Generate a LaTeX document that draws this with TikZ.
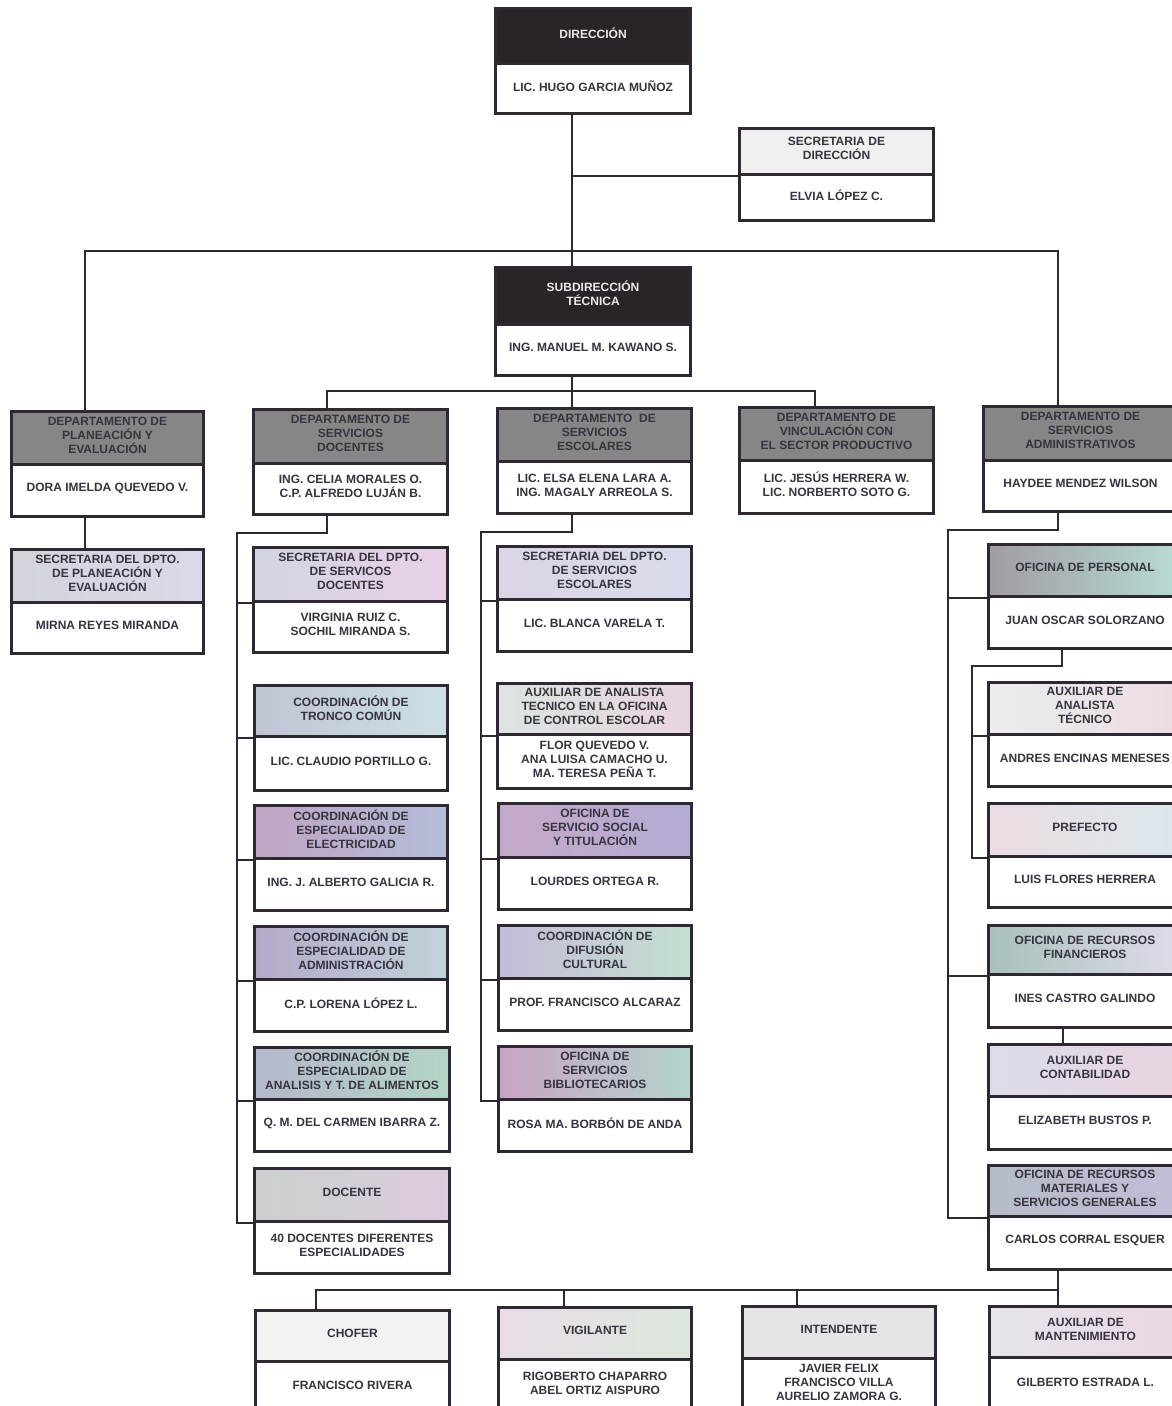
\documentclass[tikz,border=0pt]{standalone}
\usepackage{fontspec}
\newfontfamily\orgfont{Liberation Sans}
\definecolor{lc}{HTML}{2D2832}
\definecolor{tc}{HTML}{36343E}
\definecolor{lighttc}{HTML}{EAEAEA}
\definecolor{darkhd}{HTML}{2A2327}
\definecolor{depthd}{HTML}{868686}
\gdef\obtext{tc}
\tikzset{
  boxf/.style={draw=lc,line width=3pt,inner sep=0pt},
  txt/.style={inner sep=0pt,align=center,
    font={\orgfont\bfseries\fontsize{12}{14}\selectfont}},
  hdark/.style={fill=darkhd,/utils/exec={\gdef\obtext{lighttc}}},
  hdept/.style={fill=depthd},
  hflat/.style={fill=#1},
  hsh/.style args={#1/#2/#3}{/utils/exec={\definecolor{shL}{HTML}{#1}\definecolor{shM}{HTML}{#2}\definecolor{shR}{HTML}{#3}},
     left color=shL,middle color=shM,right color=shR},
  conn/.style={draw=lc,line width=2pt},
}
% name, x1, y1, ymid, x2, y2, header style, header text, body text
\newcommand\orgbox[9]{%
  \gdef\obtext{tc}%
  \pgfmathsetmacro\obW{#5-#2}%
  \pgfmathsetmacro\obH{#4-#3}%
  \pgfmathsetmacro\obB{#6-#4}%
  \node[boxf,#7,anchor=north west,minimum width=\obW pt,minimum height=\obH pt] (#1H) at (#2,#3) {};
  \node[boxf,fill=white,anchor=north west,minimum width=\obW pt,minimum height=\obB pt] (#1B) at (#2,#4) {};
  \node[txt,text=\obtext] (#1Ht) at ([yshift=3pt]#1H.center) {#8};
  \node[txt,text=tc] (#1Bt) at ([yshift=2.5pt]#1B.center) {#9};
}
\begin{document}
\begin{tikzpicture}[x=1pt,y=-1pt]
\useasboundingbox[fill=white] (0,0) rectangle (1172,1406);
\coordinate (tA) at (572,0);
\coordinate (tL) at (85,0);
\coordinate (tR) at (1058,0);
\coordinate (bus1) at (0,251);
\coordinate (bus2) at (0,391);
\coordinate (tD) at (327,0);
\coordinate (tV) at (815,0);
\coordinate (sD) at (237,0);
\coordinate (sE) at (481,0);
\coordinate (sA) at (948,0);
\coordinate (sP) at (972,0);
\coordinate (tP) at (1062,0);
\coordinate (tF) at (1063,0);
\coordinate (bus3) at (0,1290);
\coordinate (tC) at (316,0);
\coordinate (tG) at (564,0);
\coordinate (tI) at (797,0);

\orgbox{dir}{494}{7}{62}{689}{112}{hdark}{DIRECCIÓN}{LIC. HUGO GARCIA MUÑOZ}
\orgbox{sec}{738}{127}{173}{932}{219}{hflat=black!6}{SECRETARIA DE\\DIRECCIÓN}{ELVIA LÓPEZ C.}
\orgbox{sub}{494}{266}{323}{689}{374}{hdark}{SUBDIRECCIÓN\\TÉCNICA}{ING. MANUEL M. KAWANO S.}
\orgbox{plan}{10}{410}{463}{202}{515}{hdept}{DEPARTAMENTO DE\\PLANEACIÓN Y\\EVALUACIÓN}{DORA IMELDA QUEVEDO V.}
\orgbox{doc}{252}{408}{462}{446}{513}{hdept}{DEPARTAMENTO DE\\SERVICIOS\\DOCENTES}{ING. CELIA MORALES O.\\C.P. ALFREDO LUJÁN B.}
\orgbox{esc}{496}{407}{460}{690}{512}{hdept}{DEPARTAMENTO \ DE\\SERVICIOS\\ESCOLARES}{LIC. ELSA ELENA LARA A.\\ING. MAGALY ARREOLA S.}
\orgbox{vin}{738}{406}{459}{932}{512}{hdept}{DEPARTAMENTO DE\\VINCULACIÓN CON\\EL SECTOR PRODUCTIVO}{LIC. JESÚS HERRERA W.\\LIC. NORBERTO SOTO G.}
\orgbox{adm}{982}{405}{459}{1176}{510}{hdept}{DEPARTAMENTO DE\\SERVICIOS\\ADMINISTRATIVOS}{HAYDEE MENDEZ WILSON}
\orgbox{splan}{10}{548}{601}{202}{652}{hsh={D4D4DC}/{D8D6E4}/{DCD8E8}}{SECRETARIA DEL DPTO.\\DE PLANEACIÓN Y\\EVALUACIÓN}{MIRNA REYES MIRANDA}
\orgbox{sdoc}{252}{546}{600}{446}{651}{hsh={D4D4E4}/{E0D4E8}/{E8D0E8}}{SECRETARIA DEL DPTO.\\DE SERVICOS\\DOCENTES}{VIRGINIA RUIZ C.\\SOCHIL MIRANDA S.}
\orgbox{tron}{253}{684}{735}{446}{789}{hsh={C0C4D4}/{C8CCDC}/{CCE0E4}}{COORDINACIÓN DE\\TRONCO COMÚN}{LIC. CLAUDIO PORTILLO G.}
\orgbox{elec}{253}{804}{857}{446}{909}{hsh={C0A4C4}/{B8ACD0}/{B4BCD8}}{COORDINACIÓN DE\\ESPECIALIDAD DE\\ELECTRICIDAD}{ING. J. ALBERTO GALICIA R.}
\orgbox{admc}{253}{925}{978}{446}{1030}{hsh={B4A8C8}/{BCB0CC}/{C0D4DC}}{COORDINACIÓN DE\\ESPECIALIDAD DE\\ADMINISTRACIÓN}{C.P. LORENA LÓPEZ L.}
\orgbox{alim}{253}{1046}{1098}{448}{1150}{hsh={B4B8CC}/{B8B8D0}/{B4D4C4}}{COORDINACIÓN DE\\ESPECIALIDAD DE\\ANALISIS Y T. DE ALIMENTOS}{Q. M. DEL CARMEN IBARRA Z.}
\orgbox{dcte}{253}{1167}{1220}{448}{1272}{hsh={CCD0D0}/{D0D0DC}/{DCCCDC}}{DOCENTE}{40 DOCENTES DIFERENTES\\ESPECIALIDADES}
\orgbox{sesc}{496}{545}{598}{690}{650}{hsh={DCD4E4}/{DCD4EC}/{D8DCEC}}{SECRETARIA DEL DPTO.\\DE SERVICIOS\\ESCOLARES}{LIC. BLANCA VARELA T.}
\orgbox{aux}{496}{682}{733}{690}{787}{hsh={DCE4E0}/{DCDCE8}/{E8D4E0}}{AUXILIAR DE ANALISTA\\TECNICO EN LA OFICINA\\DE CONTROL ESCOLAR}{FLOR QUEVEDO V.\\ANA LUISA CAMACHO U.\\MA. TERESA PEÑA T.}
\orgbox{ssoc}{497}{802}{856}{690}{908}{hsh={C4A8C8}/{C0B4CC}/{B4ACD4}}{OFICINA DE\\SERVICIO SOCIAL\\Y TITULACIÓN}{LOURDES ORTEGA R.}
\orgbox{difu}{497}{924}{977}{690}{1029}{hsh={C4BCD8}/{C8C8DC}/{C4E0D0}}{COORDINACIÓN DE\\DIFUSIÓN\\CULTURAL}{PROF. FRANCISCO ALCARAZ}
\orgbox{bibl}{497}{1045}{1098}{690}{1150}{hsh={C8A4C4}/{B8B8D4}/{B4D4CC}}{OFICINA DE\\SERVICIOS\\BIBLIOTECARIOS}{ROSA MA. BORBÓN DE ANDA}
\orgbox{pers}{987}{543}{595}{1180}{647}{hsh={A09CA4}/{B0B0BC}/{B8DCD4}}{OFICINA DE PERSONAL}{JUAN OSCAR SOLORZANO}
\orgbox{auxt}{987}{681}{733}{1180}{785}{hsh={ECECEC}/{E8E8EC}/{ECDCE4}}{AUXILIAR DE\\ANALISTA\\TÉCNICO}{ANDRES ENCINAS MENESES}
\orgbox{pref}{987}{802}{855}{1180}{906}{hsh={ECDCE4}/{E4E4EC}/{DCE8EC}}{PREFECTO}{LUIS FLORES HERRERA}
\orgbox{rfin}{987}{924}{973}{1180}{1026}{hsh={A8C0BC}/{B4A4C4}/{E0DCE8}}{OFICINA DE RECURSOS\\FINANCIEROS}{INES CASTRO GALINDO}
\orgbox{acon}{987}{1043}{1095}{1180}{1148}{hsh={DCDCE8}/{E0DCEC}/{E8D4E0}}{AUXILIAR DE\\CONTABILIDAD}{ELIZABETH BUSTOS P.}
\orgbox{rmat}{987}{1164}{1215}{1180}{1268}{hsh={B4BCC8}/{B8BCCC}/{C4BCD8}}{OFICINA DE RECURSOS\\MATERIALES Y\\SERVICIOS GENERALES}{CARLOS CORRAL ESQUER}
\orgbox{chof}{254}{1309}{1360}{448}{1412}{hflat=black!5}{CHOFER}{FRANCISCO RIVERA}
\orgbox{vigi}{497}{1306}{1358}{690}{1410}{hsh={E8DCE8}/{E4E4EC}/{DCE8DC}}{VIGILANTE}{RIGOBERTO CHAPARRO\\ABEL ORTIZ AISPURO}
\orgbox{inte}{741}{1305}{1357}{934}{1409}{hflat=black!10}{INTENDENTE}{JAVIER FELIX\\FRANCISCO VILLA\\AURELIO ZAMORA G.}
\orgbox{amnt}{988}{1305}{1356}{1180}{1410}{hsh={E8E4EC}/{ECDCEC}/{E8D8E4}}{AUXILIAR DE\\MANTENIMIENTO}{GILBERTO ESTRADA L.}

\begin{scope}[conn]
\draw (dirB.south -| tA) -- (subH.north -| tA);
\draw (secH.south west -| tA) -- (secH.south west);
\draw (planH.north -| tL) -- (bus1 -| tL) -- (bus1 -| tR) -- (admH.north -| tR);
\draw (subB.south -| tA) -- (escH.north -| tA);
\draw (docH.north -| tD) -- (bus2 -| tD) -- (bus2 -| tV) -- (vinH.north -| tV);
\draw (planB.south -| tL) -- (splanH.north -| tL);
\draw (docB.south -| tD) -- ([yshift=-17pt]docB.south -| tD) -- ([yshift=-17pt]docB.south -| sD) -- (dcteH.south west -| sD) -- (dcteH.south west);
\foreach \n in {sdoc,tron,elec,admc,alim} \draw (\n H.south west -| sD) -- (\n H.south west);
\draw (escB.south -| tA) -- ([yshift=-17pt]escB.south -| tA) -- ([yshift=-17pt]escB.south -| sE) -- (biblH.south west -| sE) -- (biblH.south west);
\foreach \n in {sesc,aux,ssoc,difu} \draw (\n H.south west -| sE) -- (\n H.south west);
\draw (admB.south -| tR) -- ([yshift=-17pt]admB.south -| tR) -- ([yshift=-17pt]admB.south -| sA) -- (rmatH.south west -| sA) -- (rmatH.south west);
\foreach \n in {pers,rfin} \draw (\n H.south west -| sA) -- (\n H.south west);
\draw (persB.south -| tP) -- ([yshift=-16pt]persB.south -| tP) -- ([yshift=-16pt]persB.south -| sP) -- (prefH.south west -| sP) -- (prefH.south west);
\draw (auxtH.south west -| sP) -- (auxtH.south west);
\draw (rfinB.south -| tF) -- (aconH.north -| tF);
\draw (rmatB.south -| tR) -- (amntH.north -| tR);
\draw (chofH.north -| tC) -- (bus3 -| tC) -- (bus3 -| tR);
\draw (vigiH.north -| tG) -- (bus3 -| tG);
\draw (inteH.north -| tI) -- (bus3 -| tI);
\end{scope}
\end{tikzpicture}
\end{document}
